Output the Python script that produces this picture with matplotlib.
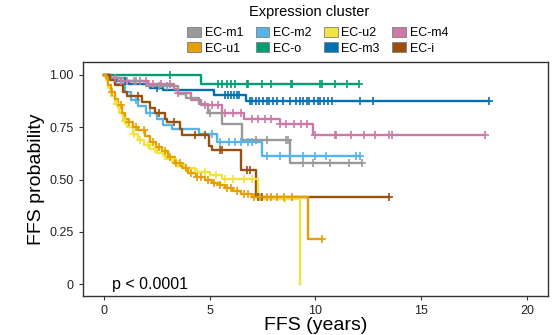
import numpy as np
import matplotlib
matplotlib.use("Agg")
import matplotlib.pyplot as plt
from matplotlib.patches import Patch

plt.rcParams['font.family'] = ['Liberation Sans', 'DejaVu Sans']

# cluster names and colours, in legend order (row by row)
groups = ["EC-m1", "EC-m2", "EC-u2", "EC-m4", "EC-u1", "EC-o", "EC-m3", "EC-i"]
colors = {"EC-m1": "#999999", "EC-m2": "#56B4E9", "EC-u2": "#F0E442", "EC-m4": "#CC79A7",
          "EC-u1": "#E69F00", "EC-o": "#009E73", "EC-m3": "#0072B2", "EC-i": "#99500F"}

# step curves: event times (years) and survival after each event
m1_t = [0, 0.3, 1.0, 2.0, 3.5, 3.9, 4.5, 4.9, 5.6, 6.55, 8.8]
m1_s = [1.0, 0.985, 0.97, 0.945, 0.91, 0.89, 0.86, 0.82, 0.765, 0.69, 0.58]
m1_end = 12.2
m1_c = [1.5, 2.6, 3.0, 5.0, 7.2, 7.7, 8.6, 8.7, 9.4, 9.9, 10.7, 11.6, 12.2]

m2_t = [0, 0.2, 0.5, 1.0, 1.3, 1.6, 2.0, 2.5, 2.8, 3.2, 4.5, 5.35, 7.45]
m2_s = [1.0, 0.98, 0.955, 0.92, 0.88, 0.85, 0.82, 0.79, 0.76, 0.74, 0.72, 0.68, 0.615]
m2_end = 12.1
m2_c = [1.5, 2.2, 5.1, 5.5, 5.9, 6.2, 6.5, 6.8, 7.0, 7.7, 8.3, 8.8, 9.4, 10.0, 10.5, 11.9, 12.1]

u2_t = [0, 0.1, 0.2, 0.35, 0.5, 0.7, 0.9, 1.1, 1.35, 1.6, 1.9, 2.2, 2.5, 2.9, 3.3, 3.8,
        4.3, 5.0, 5.6, 7.3, 9.28]
u2_s = [1.0, 0.975, 0.94, 0.9, 0.86, 0.82, 0.78, 0.75, 0.72, 0.69, 0.665, 0.645, 0.625,
        0.6, 0.575, 0.555, 0.535, 0.52, 0.505, 0.405, 0.0]
u2_end = 9.28
u2_c = [0.6, 1.0, 1.4, 1.7, 2.1, 2.4, 2.8, 3.2, 3.5, 3.9, 4.4, 4.8, 5.3, 5.7, 6.1, 6.6, 7.0, 8.55]

m4_t = [0, 0.3, 0.8, 2.1, 3.3, 3.5, 4.1, 4.6, 5.6, 6.6, 8.3, 9.9]
m4_s = [1.0, 0.985, 0.97, 0.955, 0.935, 0.915, 0.88, 0.855, 0.82, 0.79, 0.765, 0.715]
m4_end = 18.0
m4_c = [0.5, 0.8, 1.1, 1.4, 1.7, 2.0, 2.3, 2.7, 3.1, 3.5, 4.8, 5.1, 5.4, 5.7, 6.1, 6.5,
        7.0, 7.3, 7.6, 7.9, 8.3, 8.6, 9.0, 9.3, 9.6, 10.0, 10.9, 10.95, 11.7, 12.3, 12.8,
        13.5, 13.6, 18.0]

u1_t = [0, 0.09, 0.19, 0.33, 0.52, 0.66, 0.85, 0.99, 1.13, 1.37, 1.6, 1.93, 2.17, 2.45,
        2.74, 3.02, 3.35, 3.68, 3.96, 4.34, 4.76, 5.09, 5.47, 5.7, 6.08, 6.5, 6.98, 9.67]
u1_s = [1.0, 0.985, 0.95, 0.92, 0.885, 0.856, 0.82, 0.79, 0.775, 0.75, 0.735, 0.71, 0.68,
        0.655, 0.635, 0.61, 0.58, 0.555, 0.53, 0.51, 0.497, 0.483, 0.474, 0.46, 0.445,
        0.43, 0.418, 0.215]
u1_end = 10.3
u1_c = [0.4, 0.8, 1.2, 1.5, 1.9, 2.3, 2.6, 2.9, 3.1, 3.4, 3.6, 3.9, 4.1, 4.4, 4.6, 4.9,
        5.2, 5.5, 5.8, 6.0, 6.3, 6.6, 6.8, 7.1, 7.4, 7.7, 7.9, 8.2, 8.5, 8.9, 10.3]

o_t = [0, 4.6]
o_s = [1.0, 0.955]
o_end = 12.05
o_c = [3.1, 5.4, 5.6, 5.8, 6.0, 6.2, 6.75, 6.8, 7.45, 7.9, 8.85, 8.9, 10.2, 10.3, 10.9,
       11.5, 12.05]

m3_t = [0, 0.3, 0.6, 1.2, 2.2, 2.8, 5.2, 6.73]
m3_s = [1.0, 0.985, 0.97, 0.955, 0.94, 0.927, 0.903, 0.874]
m3_end = 18.2
m3_c = [1.0, 2.5, 5.7, 5.85, 6.0, 6.15, 6.3, 6.4, 6.9, 7.0, 7.2, 7.35, 7.5, 7.7, 7.8, 8.0,
        8.2, 8.45, 8.8, 9.1, 9.25, 9.4, 9.6, 9.7, 9.95, 10.1, 10.2, 10.4, 10.6, 10.8, 12.1,
        12.7, 18.2]

i_t = [0, 0.3, 0.5, 0.9, 1.1, 1.8, 2.2, 2.4, 2.9, 3.0, 3.6, 3.7, 4.95, 5.1, 6.5, 7.2]
i_s = [1.0, 0.975, 0.95, 0.92, 0.9, 0.87, 0.84, 0.82, 0.79, 0.775, 0.74, 0.715, 0.66,
       0.64, 0.545, 0.415]
i_end = 13.5
i_c = [1.6, 2.6, 3.3, 4.3, 4.8, 5.5, 5.6, 6.75, 6.9, 7.3, 7.45, 13.5]

curves = {
    "EC-m1": (m1_t, m1_s, m1_end, m1_c),
    "EC-m2": (m2_t, m2_s, m2_end, m2_c),
    "EC-u2": (u2_t, u2_s, u2_end, u2_c),
    "EC-m4": (m4_t, m4_s, m4_end, m4_c),
    "EC-u1": (u1_t, u1_s, u1_end, u1_c),
    "EC-o": (o_t, o_s, o_end, o_c),
    "EC-m3": (m3_t, m3_s, m3_end, m3_c),
    "EC-i": (i_t, i_s, i_end, i_c),
}

fig = plt.figure(figsize=(5.52, 3.35), dpi=100)
ax = fig.add_axes([0.150, 0.116, 0.843, 0.699])

# draw order roughly as in the picture (later ones on top)
for g in ["EC-o", "EC-m3", "EC-m4", "EC-m1", "EC-m2", "EC-i", "EC-u2", "EC-u1"]:
    t, s, end, cens = curves[g]
    xs = list(t) + [end]
    ys = list(s) + [s[-1]]
    ax.step(xs, ys, where='post', color=colors[g], lw=1.7, zorder=2)
    cens = np.array(cens)
    idx = np.searchsorted(np.array(t), cens, side='right') - 1
    cy = np.array(s)[idx]
    ax.plot(cens, cy, ls='none', marker='+', ms=6, mew=1.2, color=colors[g], zorder=3)

ax.text(0.36, -0.022, "p < 0.0001", fontsize=11.5, va='baseline', ha='left')

ax.set_xlim(-1, 21)
ax.set_ylim(-0.057, 1.062)
ax.set_xticks([0, 5, 10, 15, 20])
ax.set_yticks([0, 0.25, 0.5, 0.75, 1.0])
ax.set_yticklabels(["0", "0.25", "0.50", "0.75", "1.00"])
ax.tick_params(labelsize=9, length=3, width=0.8, colors='#333333', labelcolor='#222222')
for sp in ax.spines.values():
    sp.set_color('#333333')
    sp.set_linewidth(1.0)
ax.set_xlabel("FFS (years)", fontsize=14, labelpad=0)
ax.set_ylabel("FFS probability", fontsize=14, labelpad=3)

# legend title on its own, then the 2x4 key block below it
fig.text(0.560, 1 - 12 / 335, "Expression cluster", fontsize=10.5, ha='center', va='center')
# matplotlib fills columns first, so reorder to get the row layout
order = [0, 4, 1, 5, 2, 6, 3, 7]
handles = [Patch(facecolor=colors[groups[k]], edgecolor='#7f7f7f', lw=0.6) for k in order]
labels = [groups[k] for k in order]
fig.legend(handles, labels, ncol=4, loc='upper left', bbox_to_anchor=(187 / 552, 1 - 27 / 335),
           frameon=False, fontsize=9, handlelength=1.1, handleheight=0.85,
           handletextpad=0.3, columnspacing=1.0, labelspacing=0.25, borderpad=0.0,
           borderaxespad=0.0)

fig.savefig("out.png", dpi=100)
